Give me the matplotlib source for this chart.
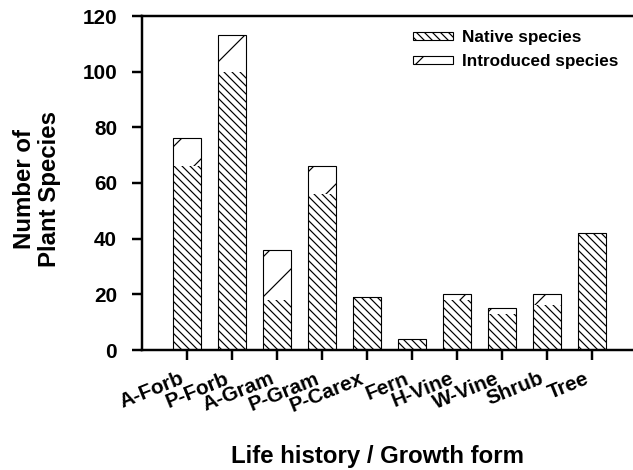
import matplotlib
matplotlib.use('Agg')
import matplotlib.pyplot as plt
from matplotlib.patches import Patch
import numpy as np

plt.rcParams['font.family'] = ['Liberation Sans', 'DejaVu Sans']
plt.rcParams['font.weight'] = 'bold'
plt.rcParams['hatch.linewidth'] = 0.72

categories = ['A-Forb', 'P-Forb', 'A-Gram', 'P-Gram', 'P-Carex', 'Fern',
              'H-Vine', 'W-Vine', 'Shrub', 'Tree']
native = [66, 100, 18, 56, 19, 4, 18, 13, 16, 42]
introduced = [10, 13, 18, 10, 0, 0, 2, 2, 4, 0]

dpi = 120
fig = plt.figure(figsize=(633 / dpi, 470 / dpi), dpi=dpi)
ax = fig.add_axes([141.7 / 633, 120 / 470, 495 / 633, 334 / 470])

x = np.arange(len(categories))
w = 0.62
total = np.array(native) + np.array(introduced)

# hatched fills without edges, then one outline per whole bar
ax.bar(x, native, w, color='white', edgecolor='black', linewidth=0, hatch='\\' * 5)
ax.bar(x, introduced, w, bottom=native, color='white', edgecolor='black',
       linewidth=0, hatch='/')
ax.bar(x, total, w, fill=False, edgecolor='black', linewidth=0.67)

ax.set_xlim(-1, 10)
ax.set_ylim(0, 120)
ax.set_yticks(range(0, 121, 20))
ax.set_xticks(x)
ax.set_xticklabels(categories, rotation=22, ha='right', va='top')
ax.tick_params(axis='both', labelsize=12.4, width=1.47, length=6)
ax.tick_params(axis='y', pad=8.7)
ax.tick_params(axis='x', pad=5.3)
ax.spines['right'].set_visible(False)
for s in ['left', 'bottom', 'top']:
    ax.spines[s].set_linewidth(1.47)

handles = [Patch(facecolor='white', edgecolor='black', linewidth=0.67, hatch='\\' * 5),
           Patch(facecolor='white', edgecolor='black', linewidth=0.67, hatch='/')]
ax.legend(handles, ['Native species', 'Introduced species'], frameon=False,
          loc='upper left', bbox_to_anchor=(412.7 / 633, 1 - 30 / 470),
          bbox_transform=fig.transFigure, borderpad=0, borderaxespad=0,
          fontsize=10.3, handlelength=2.35, handleheight=0.35,
          handletextpad=0.53, labelspacing=0.52)

fig.text(37 / 633, 1 - 189 / 470, 'Number of\nPlant Species', rotation=90,
         ha='center', va='center', fontsize=14.4, fontweight='bold',
         linespacing=1.12, multialignment='center')
fig.text(378 / 633, 1 - 456 / 470, 'Life history / Growth form',
         ha='center', va='center', fontsize=14.4, fontweight='bold')

fig.savefig('out.png', dpi=dpi)
